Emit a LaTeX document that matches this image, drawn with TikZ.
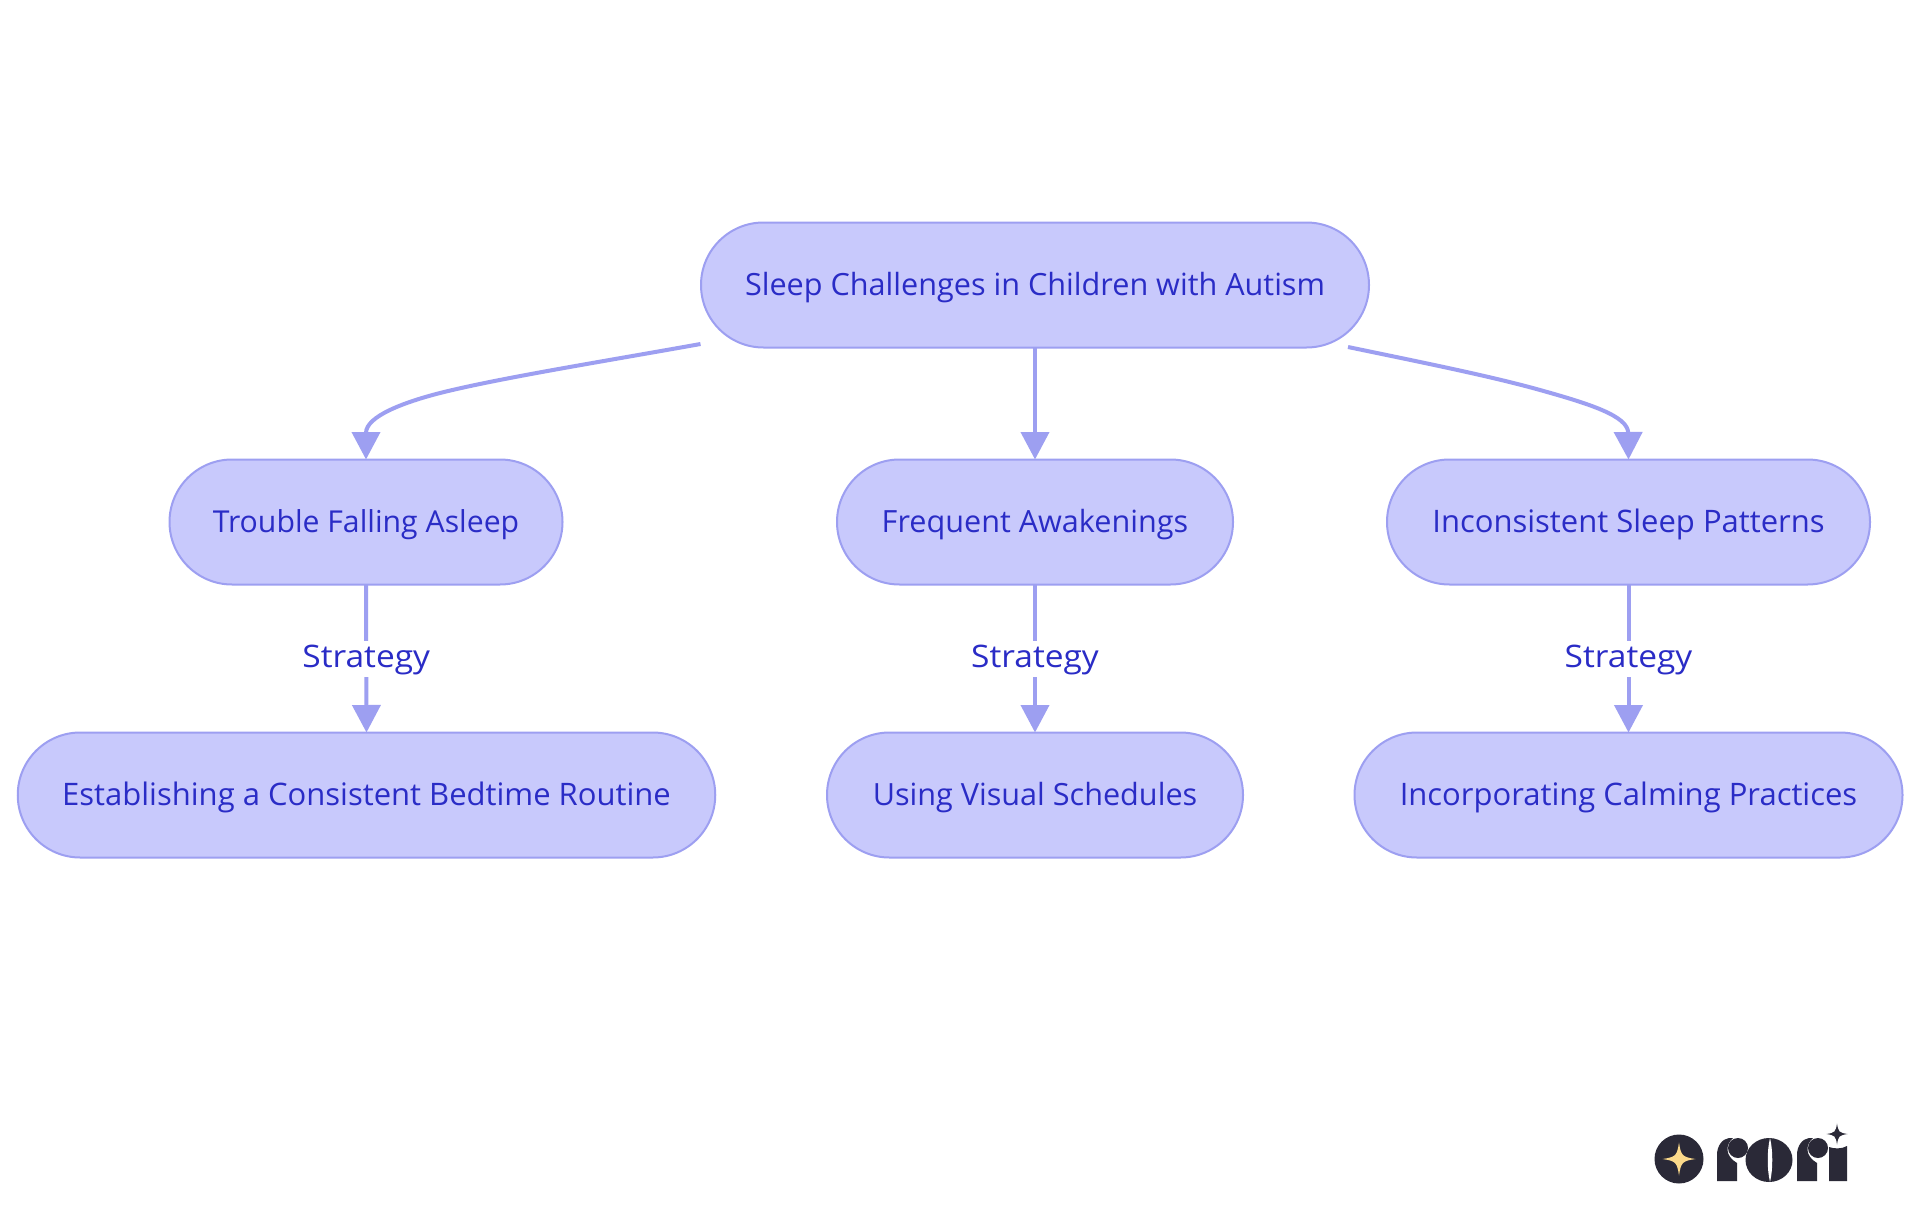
\documentclass[tikz,border=0pt]{standalone}
\usepackage{fontspec}
\setmainfont{Open Sans}
\newfontfamily\labelfont[FakeStretch=1.08]{Open Sans}
\usetikzlibrary{shapes.misc,arrows.meta}
\definecolor{nodefill}{HTML}{C8C9FC}
\definecolor{nodeline}{HTML}{9D9FF1}
\definecolor{inktext}{HTML}{2A2CC6}
\definecolor{logodark}{HTML}{2A2937}
\definecolor{logostar}{HTML}{FBD98A}
\tikzset{
  pill/.style={rounded rectangle, draw=nodeline, fill=nodefill, line width=2pt, inner sep=0pt, outer sep=0pt,
    minimum height=125pt, text=inktext, font=\fontsize{31}{35}\selectfont, text height=24pt, text depth=4pt},
  pillsmall/.style={pill, font=\fontsize{30.2}{35}\selectfont},
  pillmid/.style={pill, font=\fontsize{30.6}{35}\selectfont},
  link/.style={draw=nodeline, line width=4pt, -{Triangle[length=27.5pt,width=28pt]}},
  linklabel/.style={fill=white, text=inktext, font=\labelfont\fontsize{31}{35}\selectfont, inner sep=0pt,
    text height=27pt, text depth=9pt},
}
\newcommand{\sparkle}[4]{\fill[#4] (#1-#3,#2) .. controls (#1-0.2*#3,#2-0.12*#3) and (#1-0.12*#3,#2-0.2*#3) .. (#1,#2-#3)
  .. controls (#1+0.12*#3,#2-0.2*#3) and (#1+0.2*#3,#2-0.12*#3) .. (#1+#3,#2)
  .. controls (#1+0.2*#3,#2+0.12*#3) and (#1+0.12*#3,#2+0.2*#3) .. (#1,#2+#3)
  .. controls (#1-0.12*#3,#2+0.2*#3) and (#1-0.2*#3,#2+0.12*#3) .. (#1-#3,#2) -- cycle;}
\begin{document}
\begin{tikzpicture}[x=1pt,y=-1pt]
\useasboundingbox (0,0) rectangle (1920,1215);
\fill[white] (0,0) rectangle (1920,1215);
\node[pillmid, minimum width=668pt] (root) at (1035,285) {Sleep Challenges in Children with Autism};
\node[pillsmall, minimum width=393pt] (a) at (366,522) {Trouble Falling Asleep};
\node[pillmid, minimum width=396pt] (b) at (1035,522) {Frequent Awakenings};
\node[pill, minimum width=483pt] (c) at (1628.5,522) {Inconsistent Sleep Patterns};
\node[pill, minimum width=697.5pt] (a2) at (366.5,795) {Establishing a Consistent Bedtime Routine};
\node[pillmid, minimum width=416pt] (b2) at (1035,795) {Using Visual Schedules};
\node[pill, minimum width=548pt] (c2) at (1628.5,795) {Incorporating Calming Practices};
\coordinate (rootL) at (700.5,344);
\coordinate (rootR) at (1348,347);
\draw[link] (rootL) .. controls (600,362) and (500,378) .. (440,393) .. controls (405,402) and (366,416) .. (a.north);
\draw[link] (root.south) -- (b.north);
\draw[link] (rootR) .. controls (1420,362) and (1490,376) .. (1540,390) .. controls (1590,404) and (1628,416) .. (c.north);
\draw[link] (a.south) -- node[linklabel] (la) {Strategy} (a2.north);
\draw[link] (b.south) -- node[linklabel] (lb) {Strategy} (b2.north);
\draw[link] (c.south) -- node[linklabel] (lc) {Strategy} (c2.north);
% logo
\fill[logodark] (1679,1159) circle (24.5);
\sparkle{1679}{1159}{16.5}{logostar}
\fill[logodark] (1717,1181) -- (1717,1155) .. controls (1717,1146) and (1722,1139) .. (1729,1138) -- (1733,1138)
  .. controls (1725,1145) and (1725,1156) .. (1737,1163) -- (1737,1181) -- cycle;
\fill[logodark] (1738,1148) circle (10);
\fill[logodark] (1769,1160) ellipse (23.5 and 22);
\fill[white] (1770,1138) .. controls (1767,1150) and (1767,1170) .. (1770,1182) .. controls (1773,1170) and (1773,1150) .. (1770,1138) -- cycle;
\fill[logodark] (1797,1181) -- (1797,1155) .. controls (1797,1146) and (1802,1139) .. (1809,1138) -- (1813,1138)
  .. controls (1805,1145) and (1805,1156) .. (1817,1163) -- (1817,1181) -- cycle;
\fill[logodark] (1818,1148) circle (10);
\fill[logodark] (1829,1181) -- (1829,1147) .. controls (1834,1149) and (1842,1149) .. (1847,1146) -- (1847,1181) -- cycle;
\sparkle{1837}{1134}{10.5}{logodark}
\end{tikzpicture}
\end{document}
